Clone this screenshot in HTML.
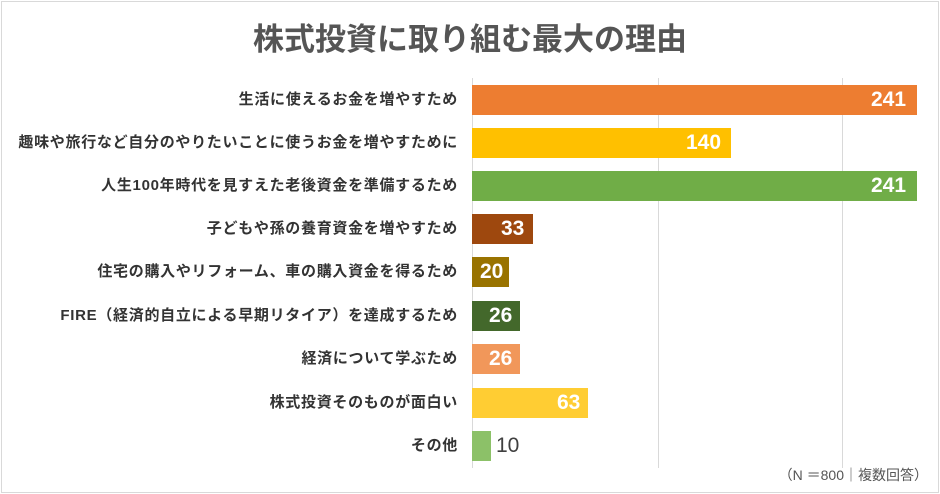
<!DOCTYPE html>
<html><head><meta charset="utf-8"><style>
body{margin:0;background:#fff;}
#c{position:relative;width:940px;height:494px;overflow:hidden;font-family:"Liberation Sans","Noto Sans CJK JP",sans-serif;}
.frame{position:absolute;left:1px;top:1px;width:936px;height:490px;border:1px solid #d9d9d9;}
.t{position:absolute;left:0;width:940px;top:14px;text-align:center;font-size:31px;font-weight:bold;color:#555;}
.g{position:absolute;top:78px;height:390px;width:1px;background:#d9d9d9;}
.l{position:absolute;right:482px;font-size:15px;letter-spacing:0.7px;font-weight:bold;color:#333;white-space:nowrap;line-height:18px;}
.b{position:absolute;left:472px;height:30px;}
.v{position:absolute;font-size:21px;font-weight:bold;color:#fff;line-height:30px;}
.n{position:absolute;right:12px;top:465px;font-size:14px;color:#555;}
</style></head><body><div id="c">
<div class="frame"></div>
<div class="t">株式投資に取り組む最大の理由</div>
<div class="g" style="left:472px"></div>
<div class="g" style="left:658px"></div>
<div class="g" style="left:842px"></div>

<div class="l" style="top:91px">生活に使えるお金を増やすため</div>
<div class="b" style="top:85px;width:445px;background:#ed7d31"></div>
<div class="v" style="top:85px;left:871px">241</div>

<div class="l" style="top:134px">趣味や旅行など自分のやりたいことに使うお金を増やすために</div>
<div class="b" style="top:128px;width:259px;background:#ffc000"></div>
<div class="v" style="top:128px;left:686px">140</div>

<div class="l" style="top:177px">人生100年時代を見すえた老後資金を準備するため</div>
<div class="b" style="top:171px;width:445px;background:#70ad47"></div>
<div class="v" style="top:171px;left:871px">241</div>

<div class="l" style="top:220px">子どもや孫の養育資金を増やすため</div>
<div class="b" style="top:214px;width:61px;background:#9e480e"></div>
<div class="v" style="top:214px;left:501px">33</div>

<div class="l" style="top:263px">住宅の購入やリフォーム、車の購入資金を得るため</div>
<div class="b" style="top:257px;width:37px;background:#997300"></div>
<div class="v" style="top:257px;left:480px">20</div>

<div class="l" style="top:307px">FIRE（経済的自立による早期リタイア）を達成するため</div>
<div class="b" style="top:301px;width:48px;background:#43682b"></div>
<div class="v" style="top:301px;left:489px">26</div>

<div class="l" style="top:350px">経済について学ぶため</div>
<div class="b" style="top:344px;width:48px;background:#f1975a"></div>
<div class="v" style="top:344px;left:489px">26</div>

<div class="l" style="top:394px">株式投資そのものが面白い</div>
<div class="b" style="top:388px;width:116px;background:#ffcd33"></div>
<div class="v" style="top:388px;left:557px">63</div>

<div class="l" style="top:437px">その他</div>
<div class="b" style="top:431px;width:19px;background:#8cc168"></div>
<div class="v" style="top:431px;left:496px;color:#404040;font-weight:normal">10</div>

<div class="n">（N ＝800｜複数回答）</div>
</div></body></html>
